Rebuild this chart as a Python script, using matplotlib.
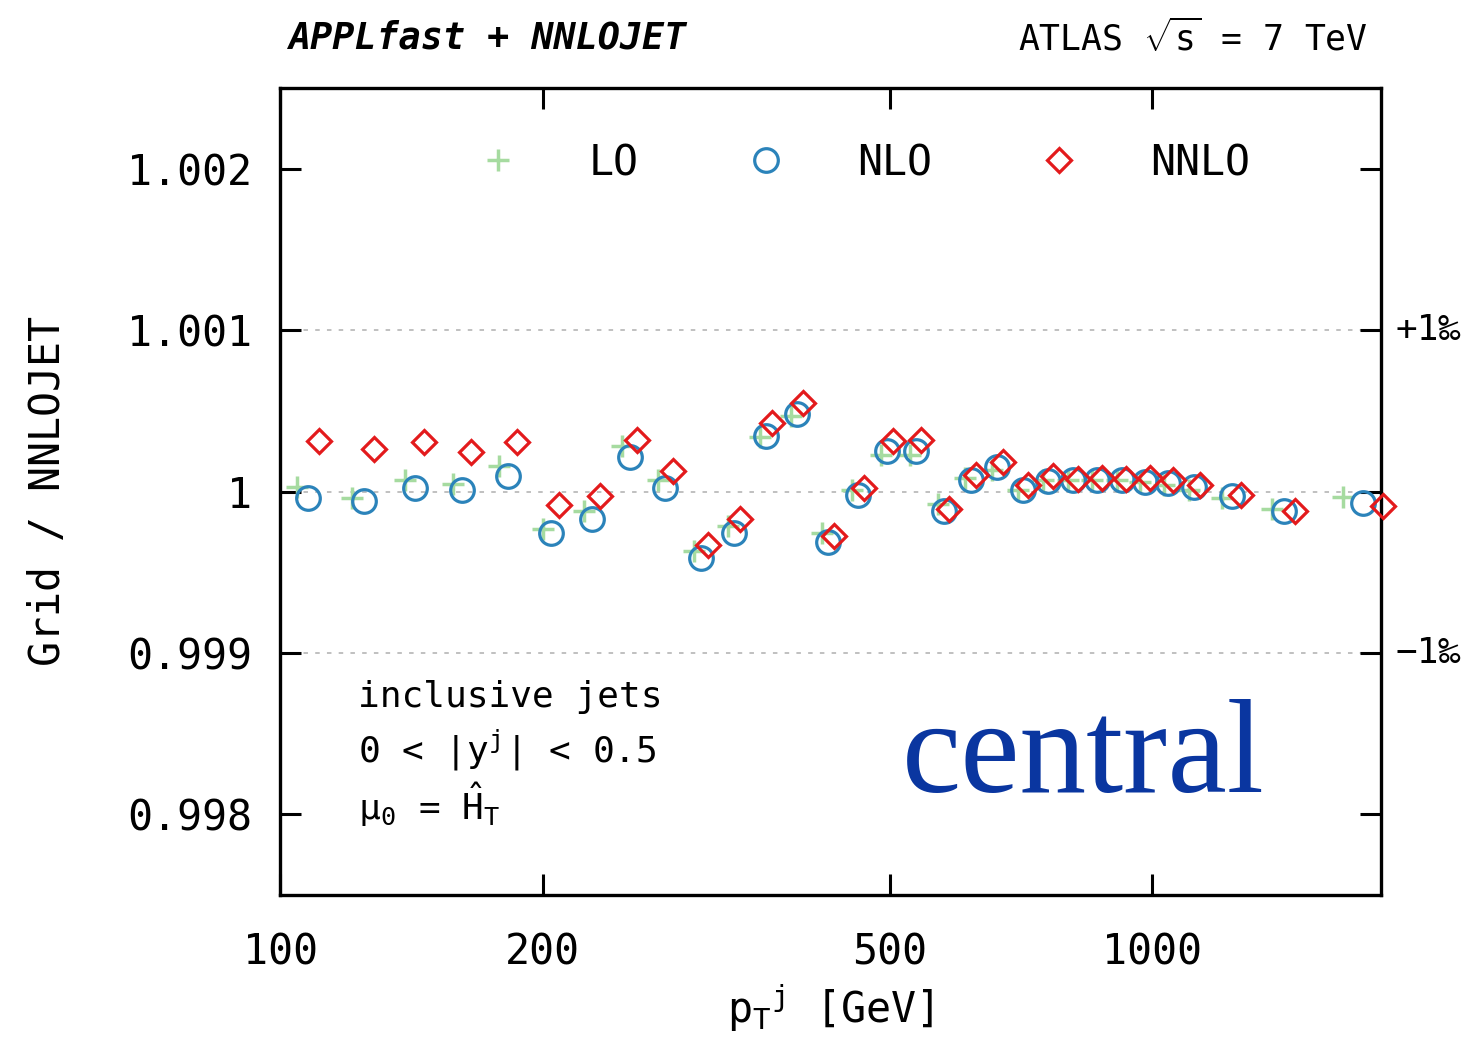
import numpy as np
import matplotlib
matplotlib.use("Agg")
import matplotlib.pyplot as plt
from matplotlib.lines import Line2D
from matplotlib.transforms import blended_transform_factory

plt.rcParams['font.family'] = ['DejaVu Sans Mono', 'DejaVu Sans']
plt.rcParams['mathtext.fontset'] = 'custom'
plt.rcParams['mathtext.rm'] = 'DejaVu Sans Mono'
plt.rcParams['mathtext.it'] = 'DejaVu Sans Mono'

# ATLAS 7 TeV inclusive jet pT bins, 0 < |y| < 0.5
pt_edges = [100, 116, 134, 152, 172, 194, 216, 240, 264, 290, 318, 346, 376,
            408, 442, 478, 516, 556, 598, 642, 688, 736, 786, 838, 894, 952,
            1012, 1076, 1162, 1310, 1530, 1992]

ratio_lo = [1.000025, 0.999961, 1.000070, 1.000049, 1.000156, 0.999765,
            0.999878, 1.000280, 1.000074, 0.999632, 0.999786, 1.000338,
            1.000465, 0.999745, 1.000012, 1.000228, 1.000228, 0.999920,
            1.000084, 1.000136, 1.000012, 1.000070, 1.000074, 1.000074,
            1.000074, 1.000060, 1.000040, 1.000012, 0.999961, 0.999889,
            0.999965]
ratio_nlo = [0.999957, 0.999940, 1.000023, 1.000012, 1.000094, 0.999745,
             0.999827, 1.000214, 1.000019, 0.999585, 0.999745, 1.000342,
             1.000480, 0.999690, 0.999981, 1.000249, 1.000253, 0.999878,
             1.000074, 1.000152, 1.000012, 1.000064, 1.000074, 1.000074,
             1.000074, 1.000057, 1.000053, 1.000029, 0.999971, 0.999878,
             0.999930]
ratio_nnlo = [1.000315, 1.000265, 1.000307, 1.000243, 1.000307, 0.999915,
              0.999971, 1.000321, 1.000125, 0.999669, 0.999827, 1.000424,
              1.000547, 0.999724, 1.000023, 1.000310, 1.000321, 0.999893,
              1.000105, 1.000181, 1.000043, 1.000094, 1.000080, 1.000084,
              1.000080, 1.000084, 1.000074, 1.000043, 0.999981, 0.999878,
              0.999909]

xticks = [100, 200, 500, 1000]
yticks = [0.998, 0.999, 1.0, 1.001, 1.002]
ytick_labels = ['0.998', '0.999', '1', '1.001', '1.002']
ref_lines = [0.999, 1.0, 1.001]
permille_labels = {1.001: '+1‰', 0.999: '−1‰'}

c_lo = '#a6dba0'
c_nlo = '#2b83ba'
c_nnlo = '#e31a1c'

edges = np.array(pt_edges, dtype=float)
centers = np.sqrt(edges[:-1] * edges[1:])
widths = np.diff(edges)
shift = 0.2 * widths

fig = plt.figure(figsize=(14.65, 10.4), dpi=100)
ax = fig.add_axes([280/1465, 1 - 895/1040, 1101/1465, 807/1040])

for y in ref_lines:
    ax.axhline(y, color='#bbbbbb', lw=1.3, ls=(0, (2.5, 4)), zorder=0)

ax.plot(centers - shift, ratio_lo, ls='none', marker='+', ms=16, mew=2.5,
        color=c_lo, clip_on=False, zorder=2)
ax.plot(centers, ratio_nlo, ls='none', marker='o', ms=17, mew=2.3,
        mfc='none', color=c_nlo, clip_on=False, zorder=3)
ax.plot(centers + shift, ratio_nnlo, ls='none', marker='D', ms=12, mew=2.3,
        mfc='none', color=c_nnlo, clip_on=False, zorder=4)

ax.set_xscale('log')
ax.set_xlim(100, 1830)
ax.set_ylim(0.9975, 1.0025)
ax.set_xticks(xticks)
ax.set_xticklabels([str(t) for t in xticks])
ax.xaxis.set_minor_locator(matplotlib.ticker.NullLocator())
ax.set_yticks(yticks)
ax.set_yticklabels(ytick_labels)

ax.tick_params(axis='both', which='major', direction='in', length=15,
               width=2.2, labelsize=30, top=True, right=True)
ax.tick_params(axis='x', pad=26)
ax.tick_params(axis='y', pad=20)
for s in ax.spines.values():
    s.set_linewidth(2.4)

ax.set_ylabel('Grid / NNLOJET', fontsize=30, va='center')
ax.yaxis.set_label_coords(-0.2107, 0.5)
ax.set_xlabel(r'$\mathrm{p_T{}^j}$ [GeV]', fontsize=30, va='center')
ax.xaxis.set_label_coords(0.5, -0.14)

trans = blended_transform_factory(ax.transAxes, ax.transData)
for y, lab in permille_labels.items():
    ax.text(1.013, y, lab, transform=trans, fontsize=26, va='center',
            ha='left')

handles = [
    Line2D([], [], ls='none', marker='+', ms=16, mew=2.5, color=c_lo),
    Line2D([], [], ls='none', marker='o', ms=17, mew=2.3, mfc='none', color=c_nlo),
    Line2D([], [], ls='none', marker='D', ms=12, mew=2.3, mfc='none', color=c_nnlo),
]
ax.legend(handles, ['LO', 'NLO', 'NNLO'], ncol=3, loc='center left',
          bbox_to_anchor=(0.16, 0.907), frameon=False, fontsize=30,
          numpoints=1, handlelength=2.0, handletextpad=1.18,
          columnspacing=2.06, borderpad=0, borderaxespad=0)

ax.text(0.0708, 0.2454, 'inclusive jets', transform=ax.transAxes,
        fontsize=26, va='center', ha='left')
ax.text(0.0708, 0.1797, r'0 < |y$^\mathrm{j}$| < 0.5', transform=ax.transAxes,
        fontsize=26, va='center', ha='left')
ax.text(0.0708, 0.1115, r'μ$_\mathrm{0}$ = $\hat{\mathrm{H}}_\mathrm{T}$',
        transform=ax.transAxes, fontsize=26, va='center', ha='left')

ax.text(0.8946, 0.1276, 'central', transform=ax.transAxes, fontsize=96,
        family='Liberation Serif', color='#0a36a0', ha='right',
        va='baseline')

fig.text(288/1465, 1 - 38/1040, 'APPLfast + NNLOJET', fontsize=26.5,
         fontweight='bold', fontstyle='italic', ha='left', va='center')
fig.text(1368/1465, 1 - 38/1040, r'ATLAS $\sqrt{\mathrm{s}}$ = 7 TeV',
         fontsize=25, ha='right', va='center')

fig.savefig('out.png', dpi=100)
